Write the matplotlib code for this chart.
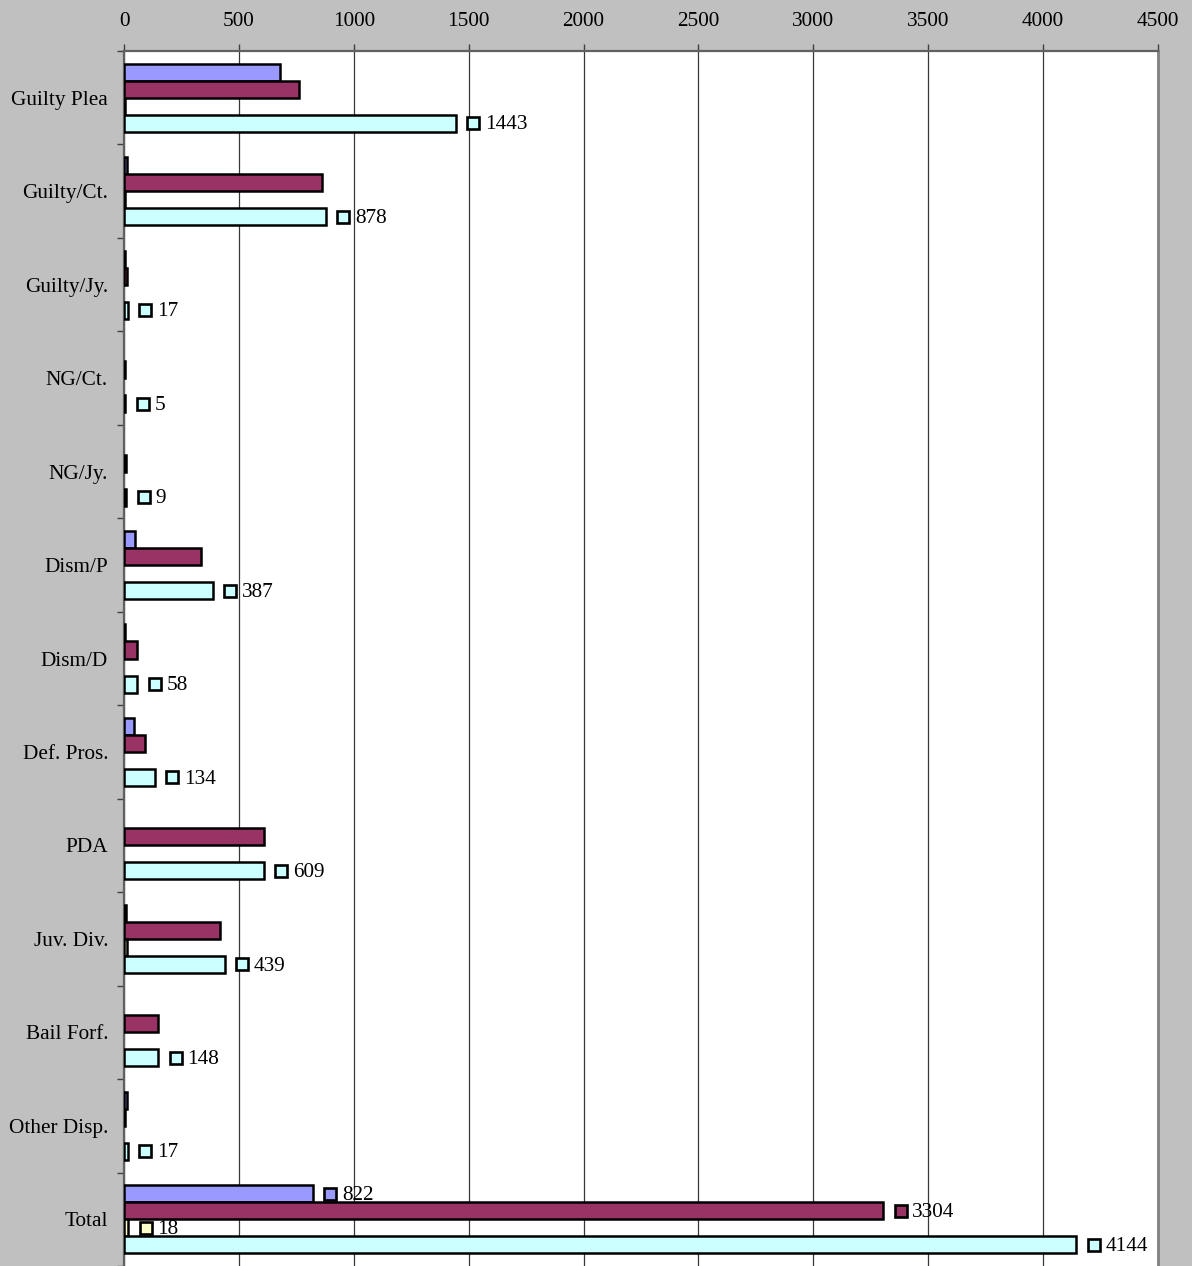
import matplotlib
matplotlib.use("Agg")
import matplotlib.pyplot as plt
import numpy as np
from matplotlib.transforms import ScaledTranslation

categories = ["Guilty Plea", "Guilty/Ct.", "Guilty/Jy.", "NG/Ct.", "NG/Jy.",
              "Dism/P", "Dism/D", "Def. Pros.", "PDA", "Juv. Div.",
              "Bail Forf.", "Other Disp.", "Total"]

series_a = [680, 12, 6, 0, 0, 50, 3, 42, 0, 9, 0, 12, 822]
series_b = [760, 863, 11, 5, 9, 337, 55, 92, 609, 418, 148, 5, 3304]
series_c = [3, 3, 0, 0, 0, 0, 0, 0, 0, 12, 0, 0, 18]
series_total = [1443, 878, 17, 5, 9, 387, 58, 134, 609, 439, 148, 17, 4144]

colors = ["#9999FF", "#993366", "#FFFFCC", "#CCFFFF"]
x_ticks = [0, 500, 1000, 1500, 2000, 2500, 3000, 3500, 4000, 4500]

plt.rcParams['font.family'] = ['Liberation Serif', 'DejaVu Serif']
FS = 15.3

W, H = 1192, 1266
fig = plt.figure(figsize=(W / 100, H / 100), dpi=100)
fig.patch.set_facecolor("#C0C0C0")
ax = fig.add_axes([124 / W, 0, (1158 - 124) / W, (H - 51) / H])
ax.set_facecolor("white")

n = len(categories)
y = np.arange(n)
h = 0.182
all_series = [series_a, series_b, series_c, series_total]
for k, (vals, col) in enumerate(zip(all_series, colors)):
    offs = (k - 1.5) * h
    keep = [i for i, v in enumerate(vals) if v > 0]
    ax.barh(y[keep] + offs, [vals[i] for i in keep], height=h, left=0,
            color=col, edgecolor="black", linewidth=1.8, zorder=3)

ax.set_xlim(0, 4500)
ax.set_ylim(n - 0.5, -0.5)

# value labels with a small key square in the series colour
def add_label(val, ypos, col):
    key_tr = ax.transData + ScaledTranslation(17.5 / 100, 0, fig.dpi_scale_trans)
    ax.plot([val], [ypos], marker="s", markersize=9.2, markerfacecolor=col,
            markeredgecolor="black", markeredgewidth=1.9, transform=key_tr,
            zorder=5, clip_on=False)
    ax.annotate(str(val), xy=(val, ypos), xytext=(21, -1.2),
                textcoords="offset points", ha="left", va="center",
                fontsize=FS, zorder=6)

for i in range(n):
    add_label(series_total[i], y[i] + 1.5 * h, colors[3])
last = n - 1
for k in range(3):
    add_label(all_series[k][last], y[last] + (k - 1.5) * h, colors[k])

# axes styling
ax.xaxis.tick_top()
ax.set_xticks(x_ticks)
ax.set_xticklabels([str(t) for t in x_ticks], fontsize=FS)
ax.tick_params(axis="x", direction="out", length=5, width=1, pad=9.5,
               color="#404040")
ax.grid(axis="x", color="#383838", linewidth=0.9, zorder=1)
ax.set_axisbelow(True)

ax.set_yticks(y)
ax.set_yticklabels(categories, fontsize=FS)
ax.tick_params(axis="y", which="major", length=0, pad=11.5)
ax.set_yticks(np.arange(n + 1) - 0.5, minor=True)
ax.tick_params(axis="y", which="minor", direction="out", length=5, width=1,
               color="#404040")

for side in ["top", "left"]:
    ax.spines[side].set_color("#606060")
    ax.spines[side].set_linewidth(1.6)
ax.spines["right"].set_color("#808080")
ax.spines["right"].set_linewidth(2)
ax.spines["bottom"].set_visible(False)

fig.savefig("out.png", dpi=100, facecolor=fig.get_facecolor())
